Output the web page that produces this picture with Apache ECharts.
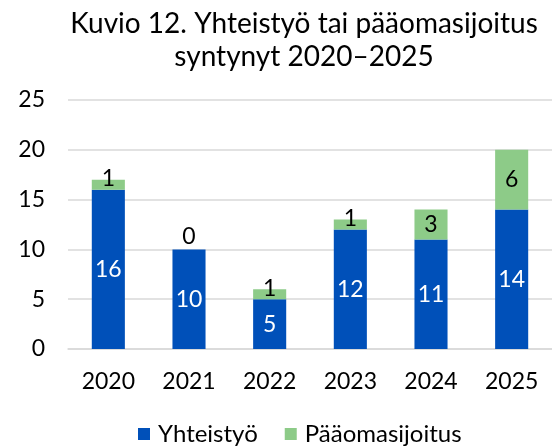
<!DOCTYPE html>
<html><head><meta charset="utf-8">
<script src="https://cdn.jsdelivr.net/npm/echarts@6/dist/echarts.min.js"></script>
<style>html,body{margin:0;padding:0;background:#fff}#c{width:552px;height:448px}</style>
</head><body><div id="c"></div>
<script>
const categories = ['2020','2021','2022','2023','2024','2025'];
const yhteistyo = [16, 10, 5, 12, 11, 14];
const paaomasijoitus = [1, 0, 1, 1, 3, 6];
const yTicks = [0, 5, 10, 15, 20, 25];

const FONT = 'Lato';
const chart = echarts.init(document.getElementById('c'), null, {renderer:'canvas'});
chart.setOption({
  animation:false,
  textStyle:{fontFamily:FONT},
  title:{
    text:'Kuvio 12. Yhteistyö tai pääomasijoitus\nsyntynyt 2020–2025',
    left:299, top:2, textAlign:'center',
    textStyle:{fontFamily:FONT, fontSize:28, fontWeight:'normal', color:'#000', lineHeight:33}
  },
  legend:{
    data:['Yhteistyö','Pääomasijoitus'],
    left:133, top:417, itemWidth:12, itemHeight:12, itemGap:27,
    icon:'rect',
    textStyle:{fontFamily:FONT, fontSize:24, color:'#000', padding:[0,0,0,3]},
  },
  grid:{left:68, right:0, top:100, bottom:99, containLabel:false},
  xAxis:{
    type:'category', data:categories,
    axisLine:{show:true, lineStyle:{color:'#d9d9d9', width:1.5}},
    axisTick:{show:false},
    axisLabel:{fontFamily:FONT, fontSize:23, color:'#000', margin:21}
  },
  yAxis:{
    type:'value', min:yTicks[0], max:yTicks[yTicks.length-1], interval:5,
    axisLine:{show:false}, axisTick:{show:false},
    splitLine:{lineStyle:{color:'#d9d9d9', width:1.5}},
    axisLabel:{fontFamily:FONT, fontSize:23, color:'#000', margin:23}
  },
  series:[
    {
      name:'Yhteistyö', type:'bar', stack:'s', barWidth:'41%',
      data:yhteistyo,
      itemStyle:{color:'#0050B9'},
      label:{show:true, position:'inside', color:'#fff', fontFamily:FONT, fontSize:23}
    },
    {
      name:'Pääomasijoitus', type:'bar', stack:'s', barWidth:'41%',
      data:paaomasijoitus.map(v => v === 0
        ? {value:v, label:{offset:[0,-13]}}
        : (v === 1 ? {value:v, label:{offset:[0,-6]}} : v)),
      itemStyle:{color:'#8DCB88'},
      label:{show:true, position:'inside', color:'#000', fontFamily:FONT, fontSize:23}
    }
  ]
});
</script></body></html>
